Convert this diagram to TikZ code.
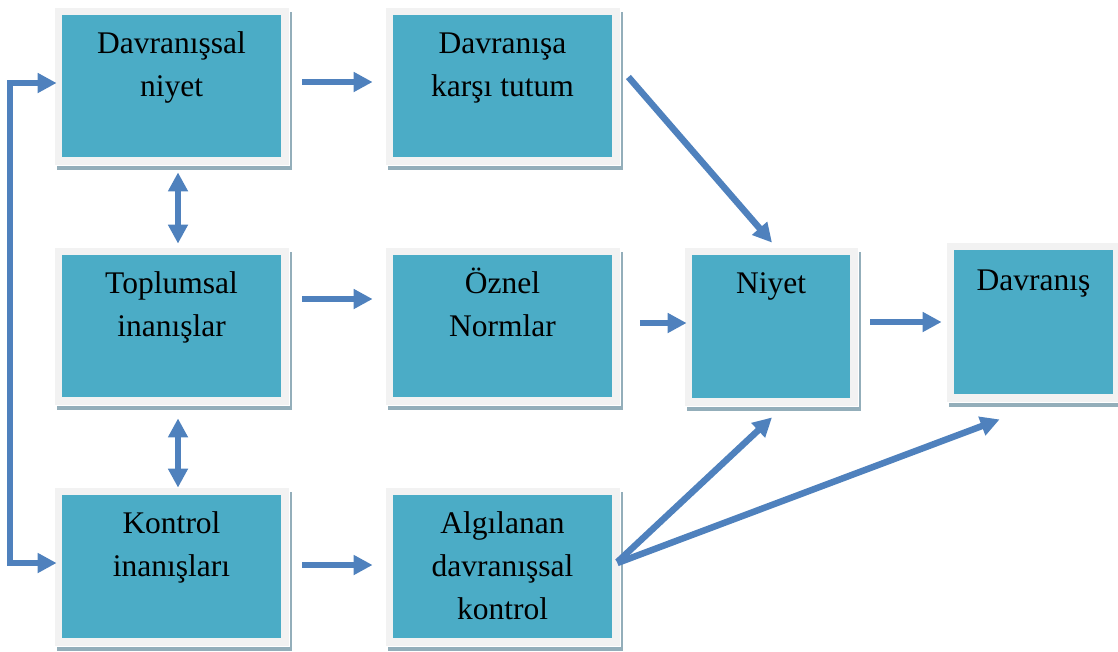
\documentclass[tikz,border=0pt]{standalone}
\usepackage{fontspec}
\setmainfont{Liberation Serif}
\usetikzlibrary{arrows.meta,shadows}
\definecolor{boxteal}{HTML}{4BACC6}
\definecolor{frameg}{HTML}{F2F2F2}
\definecolor{shadowc}{HTML}{93AEBA}
\definecolor{arrowc}{HTML}{4F81BD}
\newcommand\bt[4]{\begin{minipage}[t][#2][t]{#1}\centering\fontsize{31.5}{43}\selectfont\rule{0pt}{#3}#4\end{minipage}}
\tikzset{
  box/.style={fill=frameg, draw=white, line width=0.8pt, inner sep=8pt,
    drop shadow={shadow xshift=3pt, shadow yshift=-5pt, fill=shadowc, opacity=1},
    path picture={\fill[boxteal] ([shift={(8pt,-8pt)}]path picture bounding box.north west) rectangle ([shift={(-8pt,8pt)}]path picture bounding box.south east);}},
  arr/.style={draw=arrowc, line width=6.5pt, -{Triangle[width=19pt,length=19pt]}},
  dbl/.style={draw=arrowc, line width=6.5pt, {Triangle[width=19pt,length=19pt]}-{Triangle[width=19pt,length=19pt]}}
}
\begin{document}
\begin{tikzpicture}[x=1pt,y=-1pt]
\useasboundingbox (0,0) rectangle (1118,651);
\node[box] (A) at (171.5,86) {\bt{219pt}{142pt}{38pt}{Davranışsal\\niyet}};
\node[box] (B) at (502.5,86) {\bt{219pt}{142pt}{38pt}{Davranışa\\karşı tutum}};
\node[box] (C) at (171.5,326) {\bt{219pt}{142pt}{38pt}{Toplumsal\\inanışlar}};
\node[box] (D) at (502.5,326) {\bt{219pt}{142pt}{38pt}{Öznel\\Normlar}};
\node[box] (E) at (771,326.5) {\bt{158pt}{143pt}{38pt}{Niyet}};
\node[box] (F) at (1033.5,322) {\bt{159pt}{144pt}{40pt}{Davranış}};
\node[box] (G) at (171.5,566.5) {\bt{219pt}{143pt}{38pt}{Kontrol\\inanışları}};
\node[box] (H) at (502.5,566.5) {\bt{219pt}{143pt}{38pt}{Algılanan\\davranışsal\\kontrol}};
\coordinate (bus) at (10,320);
% horizontal arrows
\draw[arr, shorten <=13pt, shorten >=12pt] ([yshift=4pt]A.east) -- ([yshift=4pt]B.west);
\draw[arr, shorten <=13pt, shorten >=12pt] ([yshift=27pt]C.east) -- ([yshift=27pt]D.west);
\draw[arr, shorten <=13pt, shorten >=12pt] ([yshift=1.5pt]G.east) -- ([yshift=1.5pt]H.west);
\draw[arr, shorten <=20pt, shorten >=-3pt] ([yshift=3pt]D.east) -- ([yshift=3.5pt]E.west);
\draw[arr, shorten <=12pt, shorten >=4pt] ([yshift=4.5pt]E.east) -- (F.west);
% diagonal arrows
\draw[arr] ([shift={(8pt,9pt)}]B.east) -- ([shift={(1pt,4pt)}]E.north);
\draw[arr] ([shift={(-3pt,4.5pt)}]H.east) -- ([shift={(1pt,-11pt)}]E.south);
\draw[arr] ([shift={(-3pt,3.5pt)}]H.east) -- ([shift={(54pt,-17pt)}]F.south west);
% vertical double arrows
\draw[dbl, shorten <=7pt, shorten >=3pt] ([xshift=6.5pt]A.south) -- ([xshift=6.5pt]C.north);
\draw[dbl, shorten <=13pt, shorten >=-1pt] ([xshift=6.5pt]C.south) -- ([xshift=6.5pt]G.north);
% left bracket
\draw[dbl, line join=miter, shorten <=-3pt, shorten >=-3pt] ([yshift=3pt]A.west) -| (bus) |- ([yshift=3.5pt]G.west);
\end{tikzpicture}
\end{document}
